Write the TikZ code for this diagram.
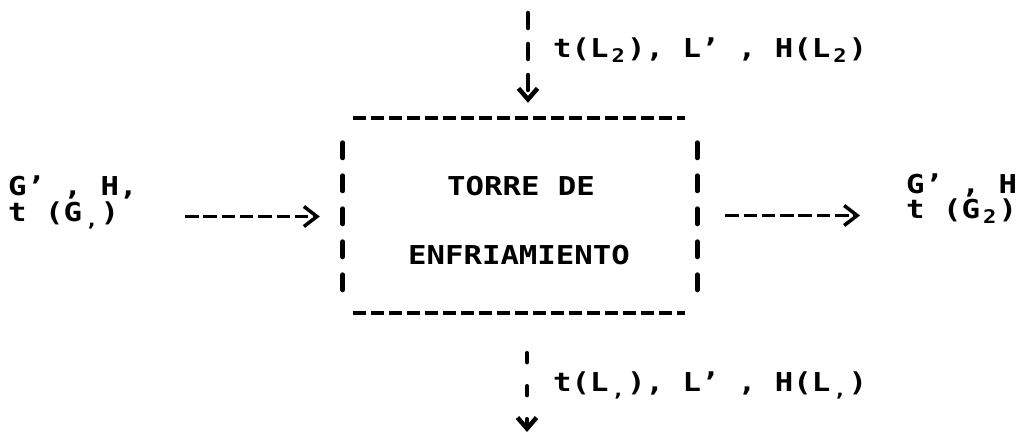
\documentclass[tikz,border=0pt]{standalone}
\usepackage{fontspec}
\usepackage{graphicx}
\setmainfont{DejaVu Sans Mono}[FakeStretch=1.18]
\usetikzlibrary{arrows.meta,calc}
\newcommand\lo[1]{\rlap{\hspace{3pt}\raisebox{-5pt}{\scalebox{0.72}{#1}}}\hphantom{0}}
\begin{document}
\begin{tikzpicture}[x=1pt,y=-1pt,
  txt/.style={inner sep=0pt, font=\fontsize{26}{27}\selectfont\bfseries},
  hline/.style={line width=4pt, dash pattern=on 13pt off 5pt},
  vline/.style={line width=5pt, line cap=round, dash pattern=on 15pt off 18pt},
  harrow/.style={line width=3.5pt, dash pattern=on 13.5pt off 4.8pt, -{Straight Barb[length=13pt,width=20pt]}},
  varrow/.style={line width=4.5pt, line cap=round, -{Straight Barb[length=11pt,width=19pt]}},
]
\useasboundingbox (0,0) rectangle (1024,436);
% box
\node[minimum width=354pt, minimum height=195pt, inner sep=0pt] (box) at (520,215.5) {};
\draw[hline] ($(box.north west)+(10,0)$) -- ($(box.north east)+(-12,0)$);
\draw[hline] ($(box.south west)+(10,0)$) -- ($(box.south east)+(-12,0)$);
\draw[vline] ($(box.north west)+(0,25)$) -- ($(box.south west)+(0,-20)$);
\draw[vline] ($(box.north east)+(0,25)$) -- ($(box.south east)+(0,-20)$);
\node[txt, anchor=base] (t1) at (521,195) {TORRE DE};
\node[txt, anchor=base] (t2) at (519,264) {ENFRIAMIENTO};
% left input
\node[txt, anchor=base west] (lg1) at (8,195) {G’ , H,};
\node[txt, anchor=base west] (lg2) at (8,221) {t (G\lo{,})};
\coordinate (lin) at (185,216.5);
\draw[harrow] (lin) -- ($(box.west)+(-23,1)$);
% right output
\node[txt, anchor=base west] (rg1) at (906,193) {G’ , H};
\node[txt, anchor=base west] (rg2) at (906,218) {t (G\lo{2})};
\coordinate (rout) at (860,215.5);
\draw[harrow] ($(box.east)+(28,0)$) -- (rout);
% top input
\coordinate (tin) at (528,13);
\draw[varrow, dash pattern=on 15pt off 16pt] (tin) -- ($(box.north)+(8,-15)$);
\node[txt, anchor=base west] (tl) at (553,57) {t(L\lo{2}), L’ , H(L\lo{2})};
% bottom output
\coordinate (bout) at (527,432);
\draw[varrow, dash pattern=on 9pt off 24pt] ($(box.south)+(7,40)$) -- (bout);
\node[txt, anchor=base west] (bl) at (553,391) {t(L\lo{,}), L’ , H(L\lo{,})};
\end{tikzpicture}
\end{document}
